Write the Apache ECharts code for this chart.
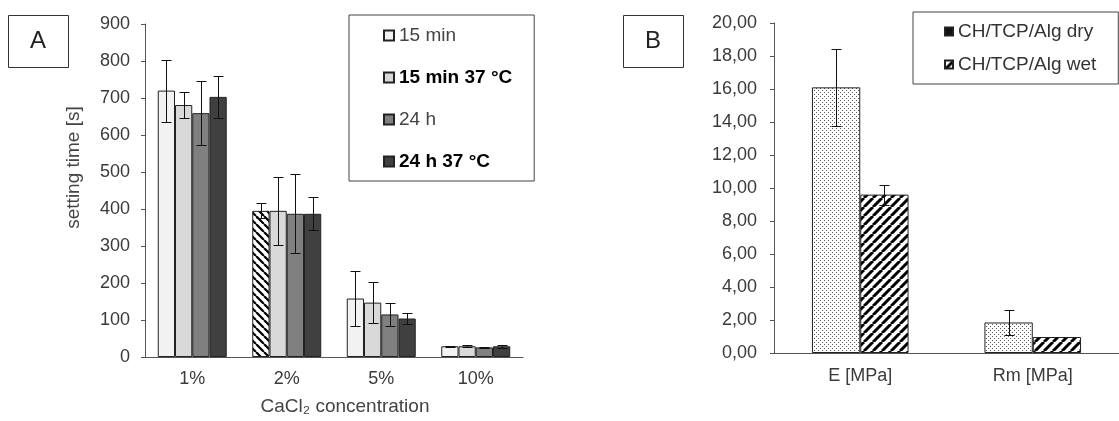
<!DOCTYPE html>
<html><head><meta charset="utf-8">
<script src="https://cdn.jsdelivr.net/npm/echarts@6/dist/echarts.min.js"></script>
<style>html,body{margin:0;padding:0;background:#fff}#c{width:1119px;height:421px}</style>
</head><body><div id="c"></div>
<script>
// ---------- Panel A data ----------
const categoriesA = ['1%', '2%', '5%', '10%'];
const seriesNamesA = ['15 min', '15 min 37 °C', '24 h', '24 h 37 °C'];
const min15      = [720, 395, 158, 29];
const min15Err   = [84, 20, 75, 2];
const min15w     = [681, 395, 147, 29];
const min15wErr  = [34, 92, 55, 3];
const h24        = [659, 387, 115, 26];
const h24Err     = [87, 107, 32, 1];
const h24w       = [703, 387, 104, 29];
const h24wErr    = [57, 45, 14, 4];
const yTicksA    = { min: 0, max: 900, step: 100 };
// ---------- Panel B data ----------
const categoriesB = ['E [MPa]', 'Rm [MPa]'];
const seriesNamesB = ['CH/TCP/Alg dry', 'CH/TCP/Alg wet'];
const dry    = [16.1, 1.85];
const dryErr = [2.33, 0.75];
const wet    = [9.6, 0.97];
const wetErr = [0.6, 0];
const yTicksB = { min: 0, max: 20, step: 2 };

// ---------- patterns ----------
function hatch(size, lw, dir) {
  const c = document.createElement('canvas'); c.width = c.height = size;
  const g = c.getContext('2d');
  g.fillStyle = '#fff'; g.fillRect(0, 0, size, size);
  g.strokeStyle = '#000'; g.lineWidth = lw; g.beginPath();
  for (let k = -1; k <= 1; k++) {
    if (dir === '/') { g.moveTo(k * size, size); g.lineTo(k * size + size, 0); }
    else { g.moveTo(k * size, 0); g.lineTo(k * size + size, size); }
  }
  g.stroke();
  return { image: c, repeat: 'repeat' };
}
function dots() {
  const c = document.createElement('canvas'); c.width = c.height = 4;
  const g = c.getContext('2d');
  g.fillStyle = '#fff'; g.fillRect(0, 0, 4, 4);
  g.fillStyle = '#555'; g.fillRect(0, 0, 1, 1); g.fillRect(2, 2, 1, 1);
  return { image: c, repeat: 'repeat' };
}
const hatchA = hatch(8, 2.2, '\\');
const hatchB = hatch(9, 3, '/');
const dotsB = dots();

const FONT = '"Liberation Sans", Arial, sans-serif';
const colorsA = ['#f2f2f2', '#d9d9d9', '#808080', '#404040'];
const gapA = 0.27, gapB = 0.44;

function errSeries(xi, yi, means, errs, i, n, gap) {
  return {
    type: 'custom', xAxisIndex: xi, yAxisIndex: yi, z: 10, silent: true,
    dimensions: ['c', 'm', 'e'], encode: { x: 0, y: 1 },
    data: means.map((m, k) => [k, m, errs[k]]),
    renderItem(params, api) {
      const k = api.value(0), m = api.value(1), e = api.value(2);
      if (!e) return null;
      const catW = api.size([1, 0])[0];
      const bw = catW * (1 - gap) / n;
      const cx = Math.round(api.coord([k, m])[0] - catW * (1 - gap) / 2 + bw * (i + 0.5)) + 0.5;
      const yt = Math.round(api.coord([k, m + e])[1]) + 0.5;
      const yb = Math.round(api.coord([k, m - e])[1]) + 0.5;
      const st = { stroke: '#111', lineWidth: 1 };
      return { type: 'group', children: [
        { type: 'line', shape: { x1: cx, y1: yt, x2: cx, y2: yb }, style: st },
        { type: 'line', shape: { x1: cx - 5, y1: yt, x2: cx + 5, y2: yt }, style: st },
        { type: 'line', shape: { x1: cx - 5, y1: yb, x2: cx + 5, y2: yb }, style: st }
      ]};
    }
  };
}

const valsA = [min15, min15w, h24, h24w];
const errsA = [min15Err, min15wErr, h24Err, h24wErr];
const hatchedA = { series: 0, index: 1 };

const seriesA = valsA.map((vals, i) => ({
  type: 'bar', name: seriesNamesA[i], xAxisIndex: 0, yAxisIndex: 0,
  barGap: '0%', barCategoryGap: (gapA * 100) + '%',
  itemStyle: { color: colorsA[i], borderColor: '#222', borderWidth: 1 },
  data: vals.map((v, k) => (i === hatchedA.series && k === hatchedA.index)
    ? { value: v, itemStyle: { color: hatchA } } : v)
}));
const errA = valsA.map((vals, i) => errSeries(0, 0, vals, errsA[i], i, 4, gapA));

const valsB = [dry, wet];
const errsB = [dryErr, wetErr];
const fillsB = [dotsB, hatchB];
const seriesB = valsB.map((vals, i) => ({
  type: 'bar', name: seriesNamesB[i], xAxisIndex: 1, yAxisIndex: 1,
  barGap: '0%', barCategoryGap: (gapB * 100) + '%',
  itemStyle: { color: fillsB[i], borderColor: '#222', borderWidth: 1 },
  data: vals
}));
const errB = valsB.map((vals, i) => errSeries(1, 1, vals, errsB[i], i, 2, gapB));

const axisLineStyle = { lineStyle: { color: '#555', width: 1 } };
const labelStyle = { color: '#3a3a3a', fontSize: 18, fontFamily: FONT };

const option = {
  animation: false,
  textStyle: { fontFamily: FONT },
  grid: [
    { left: 145, top: 24, width: 378, height: 333 },
    { left: 774, top: 23, width: 350, height: 330 }
  ],
  xAxis: [
    { type: 'category', gridIndex: 0, data: categoriesA,
      axisLine: axisLineStyle, axisTick: { length: 6, lineStyle: { color: '#555' } },
      axisLabel: Object.assign({ margin: 13 }, labelStyle),
      name: 'CaCl₂ concentration', nameLocation: 'middle', nameGap: 40,
      nameTextStyle: { fontSize: 19, color: '#444', fontFamily: FONT, padding: [0, 0, 0, 22] } },
    { type: 'category', gridIndex: 1, data: categoriesB,
      axisLine: axisLineStyle, axisTick: { length: 6, lineStyle: { color: '#555' } },
      axisLabel: Object.assign({ margin: 14 }, labelStyle) }
  ],
  yAxis: [
    { type: 'value', gridIndex: 0, min: yTicksA.min, max: yTicksA.max, interval: yTicksA.step,
      splitLine: { show: false }, axisLine: Object.assign({ show: true }, axisLineStyle),
      axisTick: { show: true, length: 4, lineStyle: { color: '#555' } },
      axisLabel: Object.assign({ margin: 15 }, labelStyle),
      name: 'setting time [s]', nameLocation: 'middle', nameGap: 62,
      nameTextStyle: { fontSize: 19, color: '#444', fontFamily: FONT, padding: [0, 0, 0, 46] } },
    { type: 'value', gridIndex: 1, min: yTicksB.min, max: yTicksB.max, interval: yTicksB.step,
      splitLine: { show: false }, axisLine: Object.assign({ show: true }, axisLineStyle),
      axisTick: { show: true, length: 4, lineStyle: { color: '#555' } },
      axisLabel: Object.assign({ margin: 17, formatter: v => v.toFixed(2).replace('.', ',') }, labelStyle) }
  ],
  legend: [
    { orient: 'vertical', left: 349, top: 15, padding: [11, 22, 10, 34], itemGap: 23,
      itemWidth: 10, itemHeight: 10, icon: 'rect',
      borderColor: '#444', borderWidth: 1, backgroundColor: '#fff',
      textStyle: { fontSize: 19, color: '#444', fontFamily: FONT },
      data: seriesNamesA.map((n, i) => i % 2 === 1
        ? { name: n, textStyle: { fontWeight: 'bold', color: '#000' } } : { name: n }) },
    { orient: 'vertical', left: 913, top: 12, padding: [10, 22, 10, 31], itemGap: 14,
      itemWidth: 8, itemHeight: 8, icon: 'rect',
      borderColor: '#444', borderWidth: 1, backgroundColor: '#fff',
      textStyle: { fontSize: 19, color: '#333', fontFamily: FONT },
      data: [{ name: seriesNamesB[0], itemStyle: { color: '#111' } }, { name: seriesNamesB[1] }] }
  ],
  graphic: [
    { type: 'rect', left: 8, top: 15, shape: { width: 60, height: 52 },
      style: { fill: '#fff', stroke: '#333', lineWidth: 1 } },
    { type: 'text', x: 38, y: 41, style: { text: 'A', fontSize: 24, fontFamily: FONT, fill: '#222',
      align: 'center', verticalAlign: 'middle' } },
    { type: 'rect', left: 623, top: 15, shape: { width: 60, height: 52 },
      style: { fill: '#fff', stroke: '#333', lineWidth: 1 } },
    { type: 'text', x: 653, y: 41, style: { text: 'B', fontSize: 24, fontFamily: FONT, fill: '#222',
      align: 'center', verticalAlign: 'middle' } }
  ],
  series: [...seriesA, ...errA, ...seriesB, ...errB]
};
const chart = echarts.init(document.getElementById('c'), null, { renderer: 'canvas' });
chart.setOption(option);
</script>
</body></html>
